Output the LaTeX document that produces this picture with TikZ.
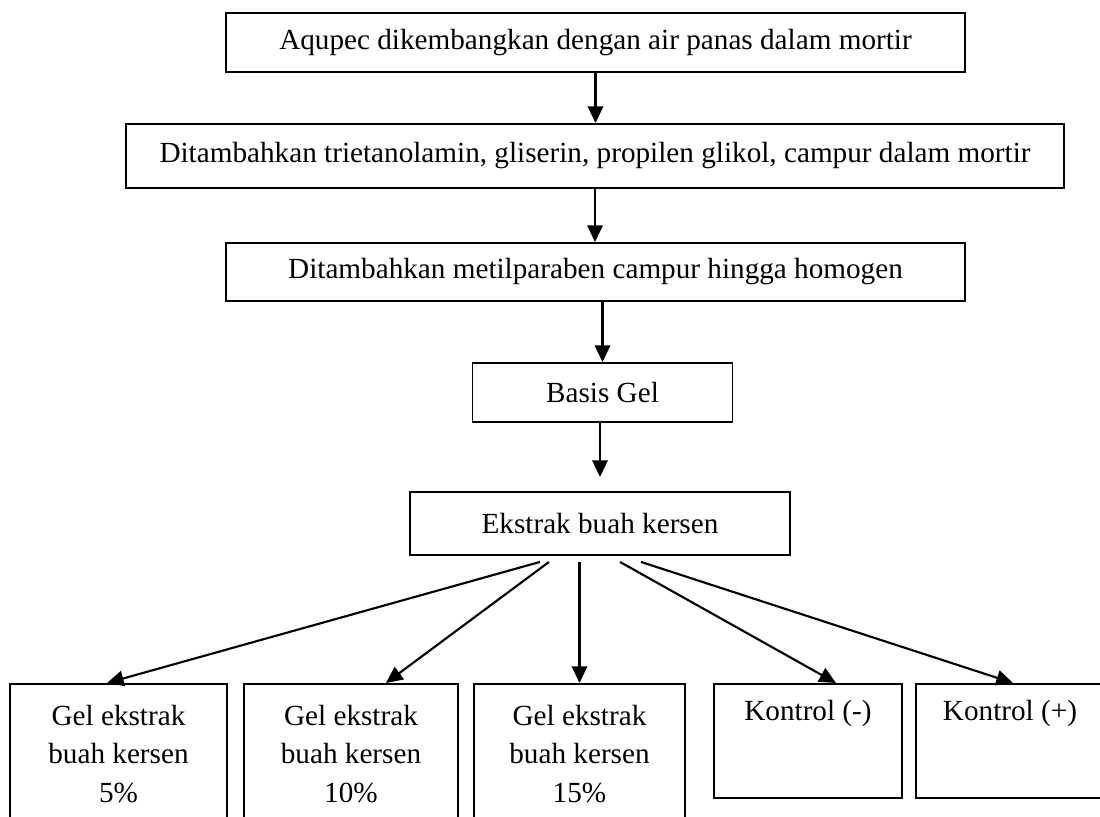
\documentclass[tikz,border=0pt]{standalone}
\usepackage{fontspec}
\setmainfont{Liberation Serif}
\usetikzlibrary{arrows.meta,calc}

\tikzset{every picture/.style={line width=1.6pt}}
\tikzset{
  stepbox/.style={draw, rectangle, inner sep=0pt, line width=1.4pt, font=\fontsize{21.9}{28.9}\selectfont},
  gelbox/.style={stepbox, anchor=north, align=center, minimum height=105pt},
  kontrolbox/.style={stepbox, anchor=north, minimum width=141pt, text height=27.4pt, text depth=58pt},
  arr/.style={-{Triangle[length=12.5pt,width=11.5pt]}}
}

\begin{document}
\begin{tikzpicture}[x=0.75pt,y=0.75pt,yscale=-1,xscale=1]
\useasboundingbox (0,0) rectangle (1100,817);

% Text Node
\node[stepbox, minimum width=554.25pt, minimum height=44.25pt] (aq) at (595.5,42.5) {Aqupec dikembangkan dengan air panas dalam mortir};
% Text Node
\node[stepbox, minimum width=703.5pt, minimum height=48pt] (tri) at (595,156) {Ditambahkan trietanolamin, gliserin, propilen glikol, campur dalam mortir};
% Text Node
\node[stepbox, minimum width=554.25pt, minimum height=43.5pt] (met) at (595.5,272) {Ditambahkan metilparaben campur hingga homogen};
% Text Node
\node[stepbox, minimum width=195pt, minimum height=44.25pt] (basis) at (602.5,392.5) {Basis Gel};
% Text Node
\node[stepbox, minimum width=285pt, minimum height=47.25pt] (ekstrak) at (600,523.5) {Ekstrak buah kersen};

% Text Node
\node[gelbox, minimum width=162.75pt] (g5) at (118.5,683) {Gel ekstrak\\buah kersen\\5\%};
% Text Node
\node[gelbox, minimum width=160.5pt] (g10) at (351,683) {Gel ekstrak\\buah kersen\\10\%};
% Text Node
\node[gelbox, minimum width=158.25pt] (g15) at (579.5,683) {Gel ekstrak\\buah kersen\\15\%};
% Text Node
\node[kontrolbox] (kneg) at (808,683) {Kontrol (-)};
% Text Node
\node[kontrolbox] (kpos) at (1010,683) {Kontrol (+)};

%Straight Lines
\draw[arr] (aq.south) -- (aq.south |- tri.north);
%Straight Lines
\draw[arr] (tri.south) -- (tri.south |- met.north);
%Straight Lines
\draw[arr] (basis.north |- met.south) -- (basis.north);
%Straight Lines
\coordinate (gap) at ($(ekstrak.north)+(0,-14)$);
\draw[arr] (basis.south -| gap) -- (gap);

%Straight Lines
\draw[arr] ($(ekstrak.south)+(-60,6)$) -- ($(g5.north)+(-11.5,0)$);
%Straight Lines
\draw[arr] ($(ekstrak.south)+(-51,6)$) -- ($(g10.north)+(35,0)$);
%Straight Lines
\draw[arr] ($(ekstrak.south)+(-20.5,6)$) -- (g15.north);
%Straight Lines
\draw[arr] ($(ekstrak.south)+(20,6)$) -- ($(kneg.north)+(28,0)$);
%Straight Lines
\draw[arr] ($(ekstrak.south)+(41,6)$) -- ($(kpos.north)+(3,0)$);

\end{tikzpicture}
\end{document}
